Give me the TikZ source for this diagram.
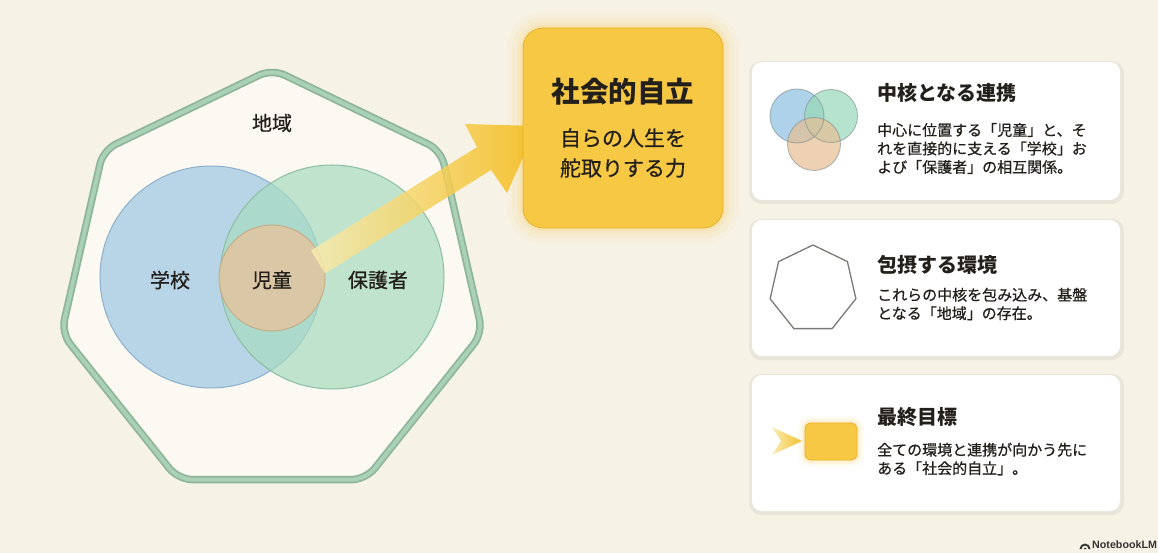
\documentclass[tikz,border=0pt]{standalone}
\usepackage{fontspec}
\setmainfont{Noto Sans CJK JP}
\newfontfamily\medfont{Noto Sans CJK JP}[FakeBold=0.6]
\newfontfamily\lsans{Liberation Sans}
\usetikzlibrary{calc}
\definecolor{bgc}{HTML}{F6F2E6}
\definecolor{heptin}{HTML}{FBF9F1}
\definecolor{heptout}{HTML}{8DB59A}
\definecolor{heptmid}{HTML}{AAD0B5}
\definecolor{bluef}{HTML}{A8CCE6}
\definecolor{blues}{HTML}{8EB0CC}
\definecolor{greenf}{HTML}{A6DBBF}
\definecolor{greens}{HTML}{8CBEA2}
\definecolor{childf}{HTML}{DCC7A3}
\definecolor{childs}{HTML}{C4AE88}
\definecolor{goldf}{HTML}{F7C843}
\definecolor{golds}{HTML}{E6B12C}
\definecolor{goldd}{HTML}{F4BA14}
\definecolor{goldp}{HTML}{F8EBB0}
\definecolor{inkc}{HTML}{231F1A}
\definecolor{grayline}{HTML}{7A7A76}
\definecolor{iconb}{HTML}{93C3E4}
\definecolor{icong}{HTML}{98D8B8}
\definecolor{icono}{HTML}{E7BE93}
\definecolor{iconst}{HTML}{7F8C8A}
\tikzset{
  lbl/.style={font=\medfont\fontsize{20}{24}\selectfont, text=inkc, inner sep=0},
  cardbox/.style={fill=white, rounded corners=10pt},
  cardshadow/.style={fill=black, opacity=0.05, rounded corners=12pt},
  cardtitle/.style={font=\bfseries\fontsize{20}{24}\selectfont, text=inkc, anchor=west, inner sep=0},
  cardbody/.style={font=\medfont\fontsize{15}{18.5}\selectfont, text=inkc, anchor=west, align=left, inner sep=0},
}
\begin{document}
\begin{tikzpicture}[x=1pt,y=-1pt]
\useasboundingbox (0,0) rectangle (1158,553);
\fill[bgc] (0,0) rectangle (1158,553);

% heptagon (region)
\coordinate (hc) at (272,285);
\foreach \k in {0,...,6}{
  \coordinate (v\k) at ($(hc)+(-90+\k*51.4286:216)$);
}
\coordinate (vm) at ($(v0)!0.5!(v1)$);
\def\heptpath{(vm) -- (v1) -- (v2) -- (v3) -- (v4) -- (v5) -- (v6) -- (v0) -- (vm)}
\fill[heptin, rounded corners=14pt] \heptpath;
\draw[heptout, line width=7.5pt, rounded corners=14pt, line join=round] \heptpath;
\draw[heptmid, line width=4pt, rounded corners=14pt, line join=round] \heptpath;

% circles
\node[circle, minimum size=222pt, inner sep=0, fill=bluef, fill opacity=0.8, draw=blues, line width=1pt] (school) at (211,277) {};
\node[circle, minimum size=224pt, inner sep=0, fill=greenf, fill opacity=0.7, draw=greens, line width=1pt] (parent) at (332,277) {};
\node[circle, minimum size=106pt, inner sep=0, fill=childf, fill opacity=0.95, draw=childs, line width=1pt] (child) at (272,278) {};

\node[lbl] (region) at (272,123) {地域};
\node[lbl] (schooll) at (170,280) {学校};
\node[lbl] (childl) at (272,280) {児童};
\node[lbl] (parentl) at (378,280) {保護者};

% glow of goal box
\foreach \g/\o in {16/0.05,11/0.07,6/0.09,3/0.12}{
  \fill[goldf, opacity=\o, rounded corners=20pt+\g pt] (523-\g,28-\g) rectangle (723+\g,228+\g);
}

% big arrow from child to goal
\coordinate (a1) at (311,250.5);
\coordinate (a2) at (477,147.2);
\coordinate (a3) at (465,124);
\coordinate (a4) at (537,126);
\coordinate (a5) at (507,193);
\coordinate (a6) at (491,170);
\coordinate (a7) at (325,273.5);
\shade[left color=goldp, right color=goldd, opacity=0.85] (a1) -- (a2) -- (a3) -- (a4) -- (a5) -- (a6) -- (a7) -- cycle;

% goal box
\node[draw=golds, line width=0.8pt, fill=goldf, rounded corners=20pt, minimum width=200pt, minimum height=200pt, inner sep=0] (goal) at (623,128) {};
\node[font=\bfseries\fontsize{28.5}{32}\selectfont, text=inkc, inner sep=0] (goalt) at (623,92) {社会的自立};
\node[font=\medfont\fontsize{21}{30}\selectfont, text=inkc, align=center, inner sep=0] (goals) at (623,153) {自らの人生を\\舵取りする力};

% cards
\foreach \t/\b in {62/200,220/356,375/511}{
  \fill[cardshadow] (749,\t-1) rectangle (1124,\b+4);
  \fill[cardbox] (752,\t) rectangle (1120,\b);
}

% card 1 icon
\fill[iconb, fill opacity=0.75] (797,116) circle (27);
\fill[icong, fill opacity=0.7] (831,116) circle (26.5);
\fill[icono, fill opacity=0.7] (814,144) circle (26.5);
\draw[iconst, line width=0.9pt, opacity=0.6] (797,116) circle (27);
\draw[iconst, line width=0.9pt, opacity=0.6] (831,116) circle (26.5);
\draw[iconst, line width=0.9pt, opacity=0.6] (814,144) circle (26.5);

\node[cardtitle] (t1) at (877,93) {中核となる連携};
\node[cardbody] (b1) at (877,148.5) {中心に位置する「児童」と、そ\\れを直接的に支える「学校」お\\よび「保護者」の相互関係。};

% card 2 icon
\coordinate (hc2) at (813,289);
\draw[grayline, line width=1.3pt, line join=round] ($(hc2)+(-90:44)$) -- ($(hc2)+(-38.57:44)$) -- ($(hc2)+(12.86:44)$) -- ($(hc2)+(64.29:44)$) -- ($(hc2)+(115.71:44)$) -- ($(hc2)+(167.14:44)$) -- ($(hc2)+(218.57:44)$) -- cycle;
\node[cardtitle] (t2) at (877,265) {包摂する環境};
\node[cardbody] (b2) at (877,304) {これらの中核を包み込み、基盤\\となる「地域」の存在。};

% card 3 icon
\foreach \g/\o in {7/0.06,4/0.1,2/0.14}{
  \fill[goldf, opacity=\o, rounded corners=6pt+\g pt] (805-\g,423-\g) rectangle (857+\g,460+\g);
}
\node[draw=golds, line width=0.8pt, fill=goldf, rounded corners=6pt, minimum width=52pt, minimum height=37pt, inner sep=0] (goalicon) at (831,441.5) {};
\shade[left color=goldp, right color=goldd, opacity=0.9] (772,427) -- (802,441) -- (772,455) -- (781,441) -- cycle;
\node[cardtitle] (t3) at (877,417) {最終目標};
\node[cardbody] (b3) at (877,459) {全ての環境と連携が向かう先に\\ある「社会的自立」。};

% footer
\node[font=\lsans\bfseries\fontsize{10.7}{12}\selectfont, text=black!80, anchor=west, inner sep=0] (nlm) at (1092,545) {NotebookLM};
\coordinate (ic) at (1085,549);
\fill[black!80] ($(ic)+(-5.5,0)$) arc[start angle=180, end angle=360, radius=5.5] -- ++(-2,0) arc[start angle=0, end angle=-180, radius=3.5] -- cycle;
\fill[black!80] ($(ic)+(-1.5,0)$) arc[start angle=180, end angle=360, radius=1.5] -- cycle;
\end{tikzpicture}
\end{document}
